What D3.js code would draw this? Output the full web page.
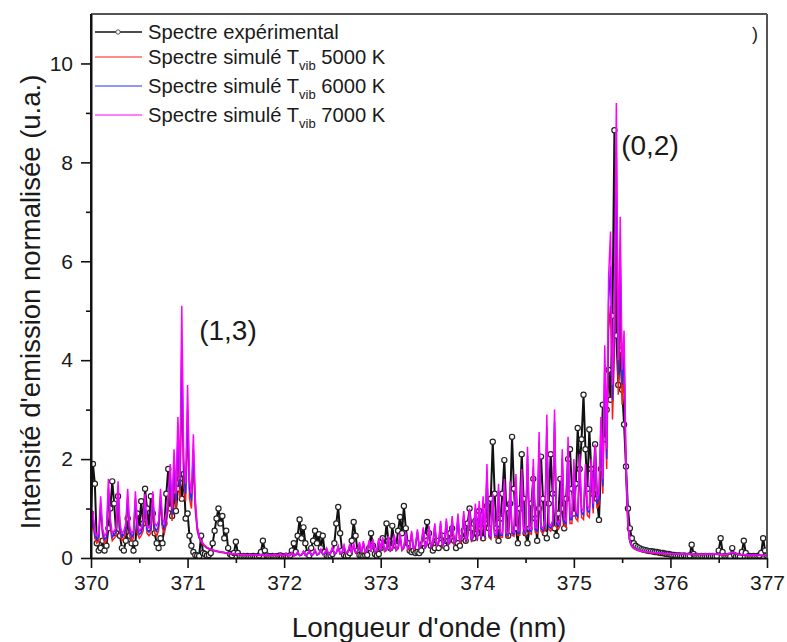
<!DOCTYPE html>
<html><head><meta charset="utf-8">
<script src="https://cdn.jsdelivr.net/npm/d3@7"></script>
<style>body{margin:0;background:#fff}svg text{font-family:Arial,"Liberation Sans",sans-serif;fill:#1a1a1a}</style>
</head><body><svg id="c" width="787" height="642"></svg>
<script>
// Wavelength grid: first sample and spacing (nm)
const wavelengthStart = 370, wavelengthStep = 0.02;

const experimental = [
0.9,1.9,1.5,0.3,0.15,0.2,0.35,0.15,0.25,0.6, 1.0,1.55,1.1,0.5,1.25,0.45,0.2,0.15,0.35,0.8, 0.45,0.3,0.15,0.3,0.9,0.6,1.15,0.7,1.4,1.0, 0.6,1.25,0.9,0.5,0.3,0.2,0.4,0.3,0.7,1.3, 1.8,1.0,0.85,1.35,0.95,1.4,1.6,1.2,1.7,0.8,
0.9,0.45,0.25,0.12,0.06,0.05,0.04,0.45,0.1,0.08, 0.05,0.06,0.1,0.3,0.55,0.8,1.0,0.7,0.85,0.4, 0.55,0.2,0.08,0.05,0.1,0.33,0.1,0.04,0.03,0.04, 0.03,0.04,0.03,0.03,0.04,0.03,0.03,0.05,0.12,0.35, 0.15,0.05,0.03,0.03,0.04,0.03,0.03,0.04,0.05,0.03,
0.03,0.04,0.03,0.05,0.15,0.3,0.12,0.45,0.78,0.4, 0.62,0.3,0.1,0.05,0.2,0.35,0.55,0.3,0.48,0.2, 0.45,0.12,0.05,0.04,0.05,0.08,0.3,0.7,1.03,0.5, 0.15,0.06,0.04,0.05,0.1,0.35,0.73,0.45,0.15,0.06, 0.05,0.04,0.05,0.06,0.2,0.5,0.25,0.08,0.05,0.08,
0.2,0.4,0.25,0.7,0.35,0.2,0.65,0.3,0.25,0.55, 0.83,0.5,1.05,0.6,0.3,0.15,0.12,0.15,0.1,0.12, 0.1,0.15,0.3,0.45,0.73,0.5,0.25,0.15,0.2,0.35, 0.2,0.3,0.45,0.25,0.2,0.35,0.5,0.6,0.35,0.2, 0.3,0.25,0.4,0.55,0.35,0.7,1.0,0.6,0.4,0.75,
0.5,0.95,0.6,0.4,0.7,1.05,0.6,1.2,2.35,1.3, 0.6,0.35,0.8,1.3,1.98,1.0,0.45,1.1,2.45,1.4, 0.6,0.3,1.0,2.1,1.2,0.5,0.3,0.6,1.1,1.6, 0.8,0.35,1.0,2.05,1.2,0.5,0.4,1.1,2.1,1.3, 0.6,0.45,0.9,1.6,1.0,0.6,1.2,2.0,2.2,1.4,
0.9,1.5,2.63,1.8,2.4,3.3,2.2,1.4,2.6,1.8, 1.3,2.3,1.2,0.77,1.8,3.1,2.4,3.0,3.8,3.2, 4.9,8.65,4.5,3.5,4.2,3.4,2.7,1.85,1.0,0.6, 0.4,0.3,0.25,0.22,0.2,0.18,0.17,0.16,0.15,0.14, 0.14,0.13,0.12,0.12,0.11,0.1,0.1,0.09,0.08,0.08,
0.07,0.06,0.06,0.05,0.05,0.05,0.04,0.05,0.04,0.04, 0.05,0.27,0.08,0.04,0.04,0.03,0.04,0.03,0.04,0.03, 0.04,0.03,0.04,0.03,0.04,0.15,0.4,0.12,0.04,0.03, 0.04,0.03,0.2,0.06,0.03,0.04,0.03,0.12,0.35,0.1, 0.03,0.04,0.03,0.04,0.03,0.04,0.05,0.1,0.4,0.15,0.05
];

const sim5000 = [
0.45,0.75,0.4,0.3,0.35,1.0,0.45,0.3,0.35,1.25, 0.6,0.35,0.4,0.45,1.2,0.5,0.35,0.4,0.5,1.1, 0.45,0.35,0.4,1.05,0.5,0.4,0.45,0.55,1.0,0.5, 0.45,0.5,1.05,0.5,0.45,0.55,1.1,0.6,0.5,0.7, 1.0,1.45,0.75,1.7,1.0,2.2,1.2,3.4,1.5,1.15,
2.6,1.2,1.0,1.9,0.95,0.55,0.4,0.32,0.27,0.23, 0.2,0.18,0.16,0.15,0.14,0.13,0.12,0.11,0.11,0.1, 0.09,0.09,0.08,0.08,0.07,0.07,0.07,0.06,0.06,0.06, 0.06,0.05,0.06,0.05,0.05,0.06,0.05,0.05,0.06,0.05, 0.04,0.05,0.06,0.04,0.05,0.07,0.04,0.05,0.08,0.04,
0.05,0.08,0.04,0.05,0.09,0.04,0.06,0.1,0.05,0.06, 0.12,0.05,0.07,0.13,0.06,0.07,0.14,0.06,0.08,0.15, 0.07,0.09,0.17,0.07,0.09,0.19,0.08,0.1,0.2,0.08, 0.1,0.22,0.09,0.11,0.24,0.09,0.25,0.1,0.12,0.27, 0.1,0.29,0.11,0.13,0.3,0.12,0.32,0.12,0.14,0.34,
0.14,0.36,0.13,0.15,0.38,0.14,0.17,0.41,0.15,0.19, 0.43,0.15,0.2,0.45,0.16,0.2,0.47,0.17,0.22,0.5, 0.19,0.24,0.53,0.2,0.26,0.55,0.21,0.27,0.6,0.23, 0.29,0.64,0.24,0.31,0.68,0.26,0.32,0.72,0.27,0.34, 0.77,0.29,0.38,0.81,0.31,0.41,0.85,0.32,0.43,0.94,
0.34,0.98,0.36,1.06,0.38,1.6,0.42,0.38,1.1,0.42, 0.4,1.27,0.42,0.42,1.36,0.44,0.42,1.32,0.46,0.44, 1.44,0.46,0.46,1.52,0.5,0.46,1.9,0.5,0.48,1.7, 0.52,0.5,2.15,0.54,0.5,0.58,2.45,0.58,0.54,0.62, 2.55,0.62,0.58,0.66,1.85,0.66,0.62,2.05,0.7,0.7,
1.7,0.8,0.75,1.78,0.82,0.78,1.6,0.86,0.82,1.7, 0.9,1.95,1.0,1.08,2.4,1.3,3.5,1.8,4.6,5.1, 2.8,4.1,7.2,3.3,5.2,3.1,3.8,1.6,0.62,0.32, 0.23,0.19,0.17,0.15,0.14,0.13,0.12,0.12,0.11,0.11, 0.1,0.1,0.1,0.09,0.09,0.09,0.09,0.08,0.08,0.08,
0.08,0.08,0.07,0.08,0.07,0.07,0.08,0.07,0.07,0.07, 0.07,0.07,0.07,0.06,0.07,0.07,0.07,0.06,0.07,0.07, 0.07,0.07,0.07,0.08,0.07,0.07,0.06,0.06,0.07,0.06, 0.08,0.09,0.1,0.09,0.08,0.07,0.06,0.06,0.06,0.05, 0.06,0.05,0.05,0.06,0.05,0.05,0.05,0.05,0.04,0.05,0.05
];

const sim6000 = [
0.5,0.85,0.45,0.38,0.42,1.1,0.52,0.38,0.42,1.4, 0.7,0.42,0.47,0.52,1.38,0.6,0.42,0.47,0.6,1.25, 0.55,0.42,0.47,1.2,0.6,0.47,0.52,0.65,1.15,0.57, 0.52,0.6,1.2,0.6,0.55,0.65,1.25,0.7,0.6,0.8, 1.15,1.7,0.88,1.95,1.15,2.5,1.4,4.3,1.75,1.3,
3.0,1.4,1.15,2.2,1.1,0.6,0.43,0.34,0.29,0.24, 0.21,0.19,0.17,0.16,0.15,0.14,0.13,0.12,0.12,0.11, 0.1,0.1,0.09,0.09,0.08,0.08,0.08,0.07,0.07,0.07, 0.07,0.06,0.07,0.06,0.06,0.07,0.06,0.06,0.07,0.06, 0.05,0.06,0.07,0.05,0.06,0.08,0.05,0.06,0.09,0.05,
0.05,0.09,0.05,0.05,0.1,0.05,0.06,0.11,0.05,0.06, 0.13,0.05,0.07,0.14,0.06,0.07,0.15,0.06,0.08,0.16, 0.07,0.09,0.18,0.07,0.09,0.2,0.08,0.1,0.22,0.08, 0.11,0.24,0.09,0.12,0.26,0.09,0.27,0.11,0.13,0.29, 0.11,0.31,0.12,0.14,0.33,0.13,0.35,0.13,0.15,0.37,
0.15,0.39,0.14,0.17,0.42,0.15,0.19,0.45,0.16,0.2, 0.47,0.17,0.21,0.49,0.18,0.22,0.51,0.19,0.24,0.54, 0.2,0.26,0.58,0.21,0.28,0.6,0.23,0.3,0.65,0.25, 0.32,0.7,0.26,0.33,0.74,0.28,0.35,0.79,0.3,0.37, 0.84,0.32,0.42,0.88,0.33,0.45,0.93,0.35,0.46,1.02,
0.37,1.06,0.39,1.15,0.41,1.75,0.46,0.41,1.2,0.46, 0.44,1.38,0.46,0.46,1.47,0.48,0.46,1.43,0.5,0.48, 1.56,0.5,0.5,1.65,0.55,0.5,2.07,0.55,0.53,1.84, 0.57,0.55,2.35,0.6,0.55,0.64,2.67,0.64,0.6,0.69, 2.76,0.69,0.64,0.74,2.02,0.74,0.69,2.25,0.78,0.78,
1.85,0.88,0.83,1.94,0.92,0.87,1.75,0.96,0.92,1.85, 1.0,2.12,1.1,1.2,2.62,1.45,3.9,2.0,5.2,5.9, 3.2,4.6,8.2,3.7,6.1,3.5,4.2,1.75,0.66,0.34, 0.24,0.2,0.18,0.16,0.15,0.14,0.13,0.13,0.12,0.12, 0.11,0.11,0.11,0.1,0.1,0.1,0.1,0.09,0.09,0.09,
0.09,0.08,0.08,0.08,0.08,0.08,0.08,0.08,0.08,0.08, 0.08,0.07,0.08,0.07,0.07,0.08,0.07,0.07,0.08,0.07, 0.08,0.07,0.08,0.08,0.08,0.07,0.07,0.07,0.07,0.07, 0.08,0.09,0.11,0.1,0.08,0.07,0.07,0.06,0.07,0.06, 0.06,0.06,0.06,0.06,0.06,0.05,0.06,0.05,0.05,0.05,0.05
];

const sim7000 = [
0.6,0.95,0.55,0.45,0.5,1.25,0.6,0.45,0.5,1.6, 0.8,0.5,0.55,0.6,1.55,0.7,0.5,0.55,0.7,1.4, 0.65,0.5,0.55,1.35,0.7,0.55,0.6,0.75,1.3,0.65, 0.6,0.7,1.35,0.7,0.65,0.75,1.4,0.8,0.7,0.9, 1.3,1.9,1.0,2.2,1.3,2.85,1.6,5.1,2.0,1.5,
3.5,1.6,1.3,2.5,1.2,0.65,0.45,0.35,0.3,0.25, 0.22,0.2,0.18,0.16,0.15,0.14,0.13,0.12,0.12,0.11, 0.1,0.1,0.09,0.09,0.08,0.08,0.08,0.07,0.07,0.07, 0.07,0.06,0.07,0.06,0.06,0.07,0.06,0.06,0.07,0.06, 0.05,0.06,0.07,0.05,0.06,0.08,0.05,0.06,0.09,0.05,
0.06,0.1,0.05,0.06,0.11,0.05,0.07,0.12,0.06,0.07, 0.14,0.06,0.08,0.15,0.07,0.08,0.17,0.07,0.09,0.18, 0.08,0.1,0.2,0.08,0.1,0.22,0.09,0.11,0.24,0.09, 0.12,0.26,0.1,0.13,0.28,0.1,0.3,0.12,0.14,0.32, 0.12,0.34,0.13,0.15,0.36,0.14,0.38,0.14,0.16,0.4,
0.16,0.42,0.15,0.18,0.45,0.16,0.2,0.48,0.17,0.22, 0.5,0.18,0.23,0.52,0.19,0.24,0.55,0.2,0.26,0.58, 0.22,0.28,0.62,0.23,0.3,0.65,0.25,0.32,0.7,0.27, 0.34,0.75,0.28,0.36,0.8,0.3,0.38,0.85,0.32,0.4, 0.9,0.34,0.45,0.95,0.36,0.48,1.0,0.38,0.5,1.1,
0.4,1.15,0.42,1.25,0.45,1.9,0.5,0.45,1.3,0.5, 0.48,1.5,0.5,0.5,1.6,0.52,0.5,1.55,0.55,0.52, 1.7,0.55,0.55,1.8,0.6,0.55,2.25,0.6,0.58,2.0, 0.62,0.6,2.55,0.65,0.6,0.7,2.9,0.7,0.65,0.75, 3.0,0.75,0.7,0.8,2.2,0.8,0.75,2.45,0.85,0.85,
2.0,0.95,0.9,2.1,1.0,0.95,1.9,1.05,1.0,2.0, 1.1,2.3,1.2,1.3,2.85,1.6,4.3,2.2,5.7,6.6, 3.5,5.0,9.2,4.0,6.9,3.8,4.6,1.9,0.7,0.35, 0.25,0.2,0.18,0.16,0.15,0.14,0.13,0.13,0.12,0.12, 0.11,0.11,0.11,0.1,0.1,0.1,0.1,0.09,0.09,0.09,
0.09,0.09,0.08,0.09,0.08,0.08,0.09,0.08,0.08,0.08, 0.08,0.08,0.08,0.07,0.08,0.08,0.08,0.07,0.08,0.08, 0.08,0.08,0.08,0.09,0.08,0.08,0.07,0.07,0.08,0.07, 0.09,0.1,0.12,0.11,0.09,0.08,0.07,0.07,0.07,0.06, 0.07,0.06,0.06,0.07,0.06,0.06,0.06,0.06,0.05,0.06,0.06
];

const xTicks = [370,371,372,373,374,375,376,377];
const xMinorTicks = [370.5,371.5,372.5,373.5,374.5,375.5,376.5];
const yTicks = [0,2,4,6,8,10];
const yMinorTicks = [1,3,5,7,9];

const seriesNames = ["Spectre expérimental","Spectre simulé T","Spectre simulé T","Spectre simulé T"];
const seriesTemps = ["", "5000 K", "6000 K", "7000 K"];
const seriesColors = ["#111111","#ff1a1a","#2a2aff","#ff00ff"];
const annotations = [{label:"(1,3)", wl:371.12, v:4.4},{label:"(0,2)", wl:375.49, v:8.15}];

const svg = d3.select("#c");
const L=91,R=767,T=14,B=558;
const x = d3.scaleLinear().domain([370,377]).range([L,R]);
const y = d3.scaleLinear().domain([0,11]).range([B,T]);
const wl = i => wavelengthStart + i*wavelengthStep;

svg.append("defs").append("clipPath").attr("id","clip")
  .append("rect").attr("x",L).attr("y",T).attr("width",R-L).attr("height",B-T);

const plot = svg.append("g").attr("clip-path","url(#clip)");
const line = d3.line().x((d,i)=>x(wl(i))).y(d=>y(d));

const allSeries = [experimental, sim5000, sim6000, sim7000];
plot.append("path").datum(experimental).attr("d",line)
  .attr("fill","none").attr("stroke",seriesColors[0]).attr("stroke-width",2);
plot.append("g").selectAll("circle").data(experimental).join("circle")
  .attr("cx",(d,i)=>x(wl(i))).attr("cy",d=>y(d)).attr("r",2.6)
  .attr("fill","#fff").attr("stroke","#222").attr("stroke-width",1.2);
[1,2,3].forEach(k=>{
  plot.append("path").datum(allSeries[k]).attr("d",line)
    .attr("fill","none").attr("stroke",seriesColors[k]).attr("stroke-width",1.5);
});

// axes
svg.append("g").attr("transform",`translate(0,${B})`)
  .call(d3.axisBottom(x).tickValues(xTicks).tickSize(10).tickSizeOuter(0).tickPadding(7).tickFormat(d3.format("d")));
svg.append("g").attr("transform",`translate(0,${B})`)
  .call(d3.axisBottom(x).tickValues(xMinorTicks).tickSize(5).tickSizeOuter(0).tickFormat(""))
  .select(".domain").remove();
svg.append("g").attr("transform",`translate(${L},0)`)
  .call(d3.axisLeft(y).tickValues(yTicks).tickSize(10).tickSizeOuter(0).tickPadding(8).tickFormat(d3.format("d")));
svg.append("g").attr("transform",`translate(${L},0)`)
  .call(d3.axisLeft(y).tickValues(yMinorTicks).tickSize(5).tickSizeOuter(0).tickFormat(""))
  .select(".domain").remove();
svg.selectAll(".tick line").attr("stroke","#111").attr("stroke-width",1.6);
svg.selectAll(".domain").attr("stroke","#111").attr("stroke-width",2);
svg.selectAll(".tick text").attr("font-size",21).attr("fill","#1a1a1a")
  .style("font-family","Arial, 'Liberation Sans', sans-serif");

// frame top & right
svg.append("line").attr("x1",L).attr("x2",R).attr("y1",T).attr("y2",T).attr("stroke","#555").attr("stroke-width",2);
svg.append("line").attr("x1",R).attr("x2",R).attr("y1",T).attr("y2",B).attr("stroke","#555").attr("stroke-width",2);
svg.append("line").attr("x1",L).attr("x2",L).attr("y1",T).attr("y2",B).attr("stroke","#111").attr("stroke-width",2);

// axis titles
svg.append("text").attr("x",429).attr("y",637).attr("text-anchor","middle")
  .attr("font-size",28).text("Longueur d'onde (nm)");
svg.append("text").attr("transform",`translate(40,302) rotate(-90)`).attr("text-anchor","middle")
  .attr("font-size",27.5).text("Intensité d'emission normalisée (u.a.)");

// legend
const legY = [32,57,86,115];
const leg = svg.append("g");
seriesNames.forEach((nm,k)=>{
  leg.append("line").attr("x1",95).attr("x2",142).attr("y1",legY[k]).attr("y2",legY[k])
    .attr("stroke",seriesColors[k]).attr("stroke-width",k===0?1.6:1.2);
  if(k===0) leg.append("circle").attr("cx",118).attr("cy",legY[k]).attr("r",2.2)
    .attr("fill","#fff").attr("stroke","#444").attr("stroke-width",0.9);
  const t = leg.append("text").attr("x",148).attr("y",legY[k]+7).attr("font-size",20.2);
  t.append("tspan").text(nm);
  if(k>0){
    t.append("tspan").attr("font-size",13).attr("dy",6).text("vib");
    t.append("tspan").attr("dy",-6).text(" "+seriesTemps[k]);
  }
});
svg.append("text").attr("x",752).attr("y",40).attr("font-size",18).text(")");

// band annotations
annotations.forEach(a=>{
  svg.append("text").attr("x",x(a.wl)).attr("y",y(a.v)).attr("font-size",28).text(a.label);
});
</script></body></html>
